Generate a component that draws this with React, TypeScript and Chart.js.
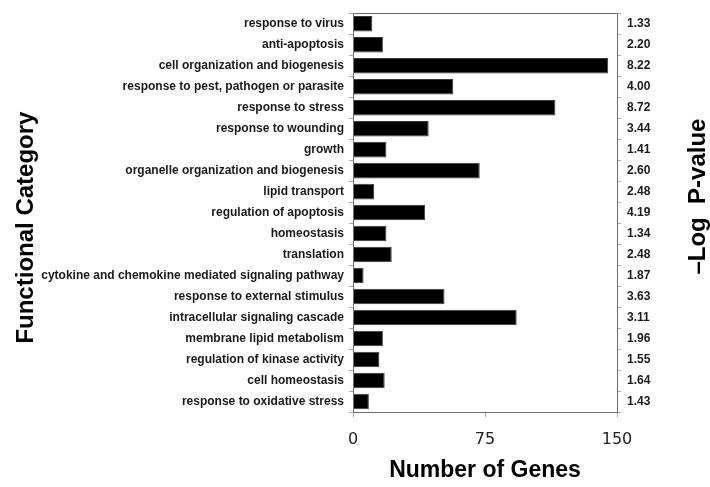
import React, { useEffect, useRef } from "react";
import { Chart, registerables } from "chart.js";

Chart.register(...registerables);

const categories = [
  "response to virus",
  "anti-apoptosis",
  "cell organization and biogenesis",
  "response to pest, pathogen or parasite",
  "response to stress",
  "response to wounding",
  "growth",
  "organelle organization and biogenesis",
  "lipid transport",
  "regulation of apoptosis",
  "homeostasis",
  "translation",
  "cytokine and chemokine mediated signaling pathway",
  "response to external stimulus",
  "intracellular signaling cascade",
  "membrane lipid metabolism",
  "regulation of kinase activity",
  "cell homeostasis",
  "response to oxidative stress",
];

const geneCounts = [11, 17, 145, 57, 115, 43, 19, 72, 12, 41, 19, 22, 6, 52, 93, 17, 15, 18, 9];

const pValueLabels = [
  "1.33", "2.20", "8.22", "4.00", "8.72", "3.44", "1.41", "2.60", "2.48", "4.19",
  "1.34", "2.48", "1.87", "3.63", "3.11", "1.96", "1.55", "1.64", "1.43",
];

const xTickValues = [0, 75, 150];

const xTitle = "Number of Genes";
const yTitle = "Functional Category";
const rightTitleText = "\u2013Log  P-value";

const titleFont = 'bold 24px "Liberation Sans", Arial, sans-serif';

const framePlugin = {
  id: "frame",
  afterDatasetsDraw(chart: any) {
    const { ctx, chartArea } = chart;
    const { left, top, right, bottom } = chartArea;
    ctx.save();
    ctx.strokeStyle = "#6e6e6e";
    ctx.lineWidth = 1;
    ctx.strokeRect(Math.round(left) + 0.5, Math.round(top) + 0.5, Math.round(right - left), Math.round(bottom - top));
    ctx.restore();
  },
};

const sideTitlesPlugin = {
  id: "sideTitles",
  afterDraw(chart: any) {
    const { ctx, chartArea, width } = chart;
    const mid = (chartArea.top + chartArea.bottom) / 2;
    const draw = (text: string, x: number, y: number) => {
      ctx.save();
      ctx.translate(x, y);
      ctx.rotate(-Math.PI / 2);
      ctx.font = titleFont;
      ctx.fillStyle = "#000";
      ctx.textAlign = "center";
      ctx.textBaseline = "middle";
      ctx.fillText(text, 0, 0);
      ctx.restore();
    };
    draw(yTitle, 26, mid + 15);
    draw(rightTitleText, width - 12, mid - 16);
  },
};

export default function App() {
  const ref = useRef<HTMLCanvasElement | null>(null);

  useEffect(() => {
    if (!ref.current) return;
    const chart = new Chart(ref.current, {
      type: "bar",
      data: {
        labels: categories,
        datasets: [
          {
            data: geneCounts,
            backgroundColor: "#000000",
            borderColor: "#3a3a3a",
            borderWidth: 1,
            barPercentage: 0.74,
            categoryPercentage: 1,
            xAxisID: "x",
            yAxisID: "y",
          },
        ],
      },
      options: {
        indexAxis: "y",
        animation: false,
        responsive: false,
        maintainAspectRatio: false,
        layout: { padding: { left: 8, top: 7, right: 0, bottom: 0 } },
        plugins: { legend: { display: false }, tooltip: { enabled: false } },
        scales: {
          x: {
            type: "linear",
            position: "bottom",
            min: 0,
            max: 150,
            afterBuildTicks: (s: any) => {
              s.ticks = xTickValues.map((v) => ({ value: v }));
            },
            afterFit: (s: any) => {
              s.height = 75;
            },
            border: { color: "#6e6e6e" },
            grid: { drawOnChartArea: false, tickLength: 5, color: "#aaaaaa" },
            ticks: {
              padding: 13,
              color: "#222",
              font: { family: "DejaVu Sans", size: 16 },
            },
            title: {
              display: true,
              text: xTitle,
              color: "#000",
              font: { family: "Liberation Sans", size: 23, weight: "bold" },
              padding: { top: 0, bottom: 3 },
            },
          },
          y: {
            type: "category",
            position: "left",
            offset: true,
            afterFit: (s: any) => {
              s.width = 345;
            },
            border: { color: "#6e6e6e" },
            grid: { offset: true, drawOnChartArea: false, tickLength: 4, color: "#aaaaaa" },
            ticks: {
              padding: 5,
              color: "#1a1a1a",
              autoSkip: false,
              font: { family: "Liberation Sans", size: 12, weight: "bold" },
            },
            title: { display: false },
          },
          y2: {
            type: "category",
            position: "right",
            labels: pValueLabels,
            offset: true,
            afterFit: (s: any) => {
              s.width = 93;
            },
            border: { color: "#6e6e6e" },
            grid: { offset: true, drawOnChartArea: false, tickLength: 4, color: "#aaaaaa" },
            ticks: {
              padding: 6,
              color: "#1a1a1a",
              autoSkip: false,
              font: { family: "Liberation Sans", size: 12, weight: "bold" },
            },
          },
        },
      },
      plugins: [framePlugin, sideTitlesPlugin],
    } as any);
    return () => chart.destroy();
  }, []);

  return (
    <div style={{ position: "absolute", left: 0, top: 0, width: 710, height: 487, background: "#fff" }}>
      <canvas ref={ref} width={710} height={487} />
    </div>
  );
}
